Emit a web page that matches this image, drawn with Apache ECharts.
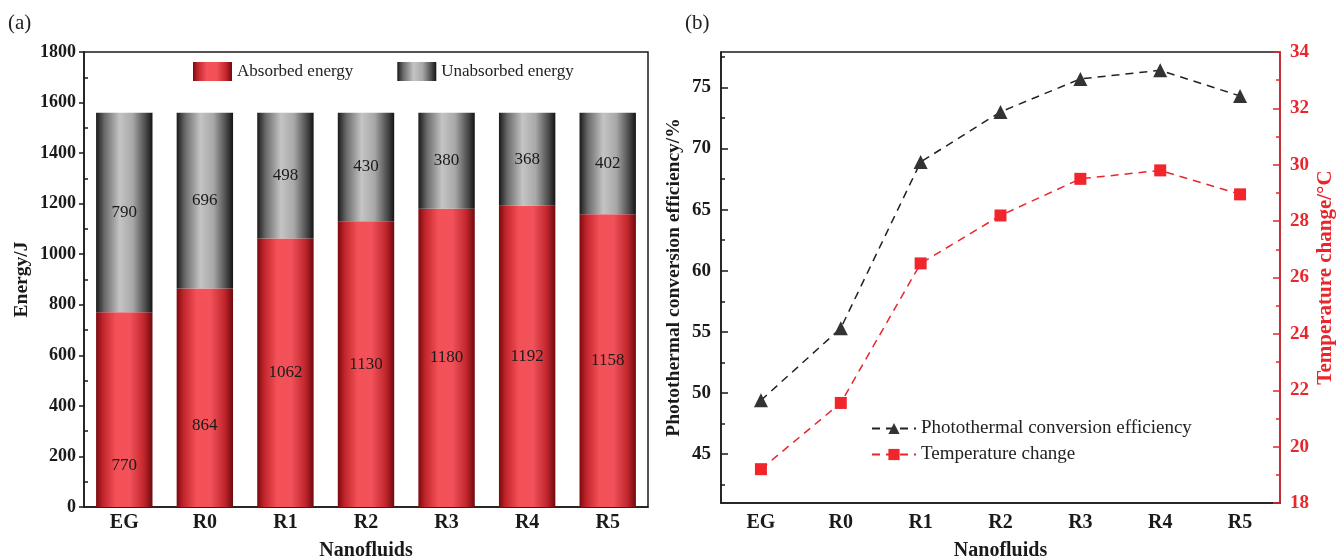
<!DOCTYPE html>
<html>
<head>
<meta charset="utf-8">
<script src="https://cdn.jsdelivr.net/npm/echarts@6/dist/echarts.min.js"></script>
<style>
html,body{margin:0;padding:0;background:#fff;}
#c{width:1339px;height:560px;}
</style>
</head>
<body>
<div id="c"></div>
<script>
// ---- data ----
const categories = ['EG', 'R0', 'R1', 'R2', 'R3', 'R4', 'R5'];
const absorbed = [770, 864, 1062, 1130, 1180, 1192, 1158];
const unabsorbed = [790, 696, 498, 430, 380, 368, 402];
const efficiency = [49.4, 55.3, 68.9, 73.0, 75.7, 76.4, 74.3];
const tempChange = [19.2, 21.55, 26.5, 28.2, 29.5, 29.8, 28.95];
const energyMinorTicks = [100, 300, 500, 700, 900, 1100, 1300, 1500, 1700];
const effMajorTicks = [45, 50, 55, 60, 65, 70, 75];
const effMinorTicks = [42.5, 47.5, 52.5, 57.5, 62.5, 67.5, 72.5, 77.5];

const FONT = '"Liberation Serif", "DejaVu Serif", serif';
const chart = echarts.init(document.getElementById('c'));

const redGrad = new echarts.graphic.LinearGradient(0, 0, 1, 0, [
  {offset: 0, color: '#7a0a0e'},
  {offset: 0.12, color: '#c0252b'},
  {offset: 0.35, color: '#f45058'},
  {offset: 0.6, color: '#f2525a'},
  {offset: 0.85, color: '#c2262d'},
  {offset: 1, color: '#6e0a0d'}
]);
const grayGrad = new echarts.graphic.LinearGradient(0, 0, 1, 0, [
  {offset: 0, color: '#1a1a1a'},
  {offset: 0.15, color: '#6a6a6a'},
  {offset: 0.42, color: '#c4c4c4'},
  {offset: 0.65, color: '#a8a8a8'},
  {offset: 0.88, color: '#4a4a4a'},
  {offset: 1, color: '#141414'}
]);

// label tweaks for the short red bars (style only)
const absorbedLabelOffset = {EG: [0, 56], R0: [0, 28]};

const axisLabelStyle = {fontFamily: FONT, fontWeight: 'bold', fontSize: 18, color: '#1a1a1a'};
const catLabelStyle = {fontFamily: FONT, fontWeight: 'bold', fontSize: 20, color: '#1a1a1a'};
const axisNameStyle = {fontFamily: FONT, fontWeight: 'bold', fontSize: 20, color: '#1a1a1a'};
const vNameStyle = {fontFamily: FONT, fontWeight: 'bold', fontSize: 19.5, color: '#1a1a1a'};

const option = {
  backgroundColor: '#fff',
  animation: false,
  title: [
    {text: '(a)', left: 3, top: 8, textStyle: {fontFamily: FONT, fontWeight: 'normal', fontSize: 21, color: '#222'}},
    {text: '(b)', left: 680, top: 8, textStyle: {fontFamily: FONT, fontWeight: 'normal', fontSize: 21, color: '#222'}}
  ],
  grid: [
    {left: 84, top: 52, width: 564, height: 455, outerBoundsMode: 'none', containLabel: false, show: true, borderColor: '#1a1a1a', borderWidth: 1.5, backgroundColor: 'transparent'},
    {left: 721, top: 52, width: 559, height: 451, outerBoundsMode: 'none', containLabel: false, show: true, borderColor: '#1a1a1a', borderWidth: 1.5, backgroundColor: 'transparent'}
  ],
  legend: [
    {
      data: ['Absorbed energy', 'Unabsorbed energy'],
      left: 193, top: 62, padding: 0, itemWidth: 39, itemHeight: 19, itemGap: 44, icon: 'rect',
      textStyle: {fontFamily: FONT, fontSize: 17, color: '#222'}
    },
    {
      data: ['Photothermal conversion efficiency', 'Temperature change'],
      orient: 'vertical', left: 866, top: 414, itemWidth: 44, itemHeight: 14, itemGap: 7,
      textStyle: {fontFamily: FONT, fontSize: 19, color: '#222'}
    }
  ],
  xAxis: [
    {
      type: 'category', gridIndex: 0, data: categories,
      axisLine: {lineStyle: {color: '#1a1a1a', width: 1.5}},
      axisTick: {alignWithLabel: true, inside: true, length: 6, lineStyle: {color: '#1a1a1a', width: 1.5}},
      axisLabel: Object.assign({margin: 6}, catLabelStyle),
      name: 'Nanofluids', nameLocation: 'middle', nameGap: 34, nameTextStyle: axisNameStyle
    },
    {
      type: 'category', gridIndex: 0, data: categories, position: 'bottom',
      axisLine: {show: false},
      axisTick: {alignWithLabel: false, inside: true, length: 3, lineStyle: {color: '#1a1a1a', width: 1.5}},
      axisLabel: {show: false}
    },
    {
      type: 'category', gridIndex: 1, data: categories,
      axisLine: {lineStyle: {color: '#1a1a1a', width: 1.5}},
      axisTick: {alignWithLabel: true, inside: false, length: 6, lineStyle: {color: '#1a1a1a', width: 1.5}},
      axisLabel: Object.assign({margin: 10}, catLabelStyle),
      name: 'Nanofluids', nameLocation: 'middle', nameGap: 38, nameTextStyle: axisNameStyle
    },
    {
      type: 'category', gridIndex: 1, data: categories, position: 'bottom',
      axisLine: {show: false},
      axisTick: {alignWithLabel: false, inside: true, length: 4, lineStyle: {color: '#1a1a1a', width: 1.5}},
      axisLabel: {show: false}
    }
  ],
  yAxis: [
    {
      type: 'value', gridIndex: 0, min: 0, max: 1800, interval: 200, position: 'left',
      axisLine: {show: true, lineStyle: {color: '#1a1a1a', width: 1.5}},
      axisTick: {show: true, inside: false, length: 5, lineStyle: {color: '#1a1a1a', width: 1.5}},
      splitLine: {show: false},
      axisLabel: Object.assign({margin: 8, formatter: (v) => String(v)}, axisLabelStyle),
      name: 'Energy/J', nameLocation: 'middle', nameGap: 52, nameRotate: 90, nameTextStyle: vNameStyle
    },
    {
      type: 'value', gridIndex: 0, min: 0, max: 1800, position: 'left',
      axisLine: {show: false},
      axisTick: {show: true, inside: true, length: 4, customValues: energyMinorTicks, lineStyle: {color: '#1a1a1a', width: 1.5}},
      splitLine: {show: false},
      axisLabel: {show: false}
    },
    {
      type: 'value', gridIndex: 1, min: 41, max: 77.9, position: 'left',
      axisLine: {show: true, lineStyle: {color: '#1a1a1a', width: 1.5}},
      axisTick: {show: true, inside: true, length: 7, customValues: effMajorTicks, lineStyle: {color: '#1a1a1a', width: 1.5}},
      splitLine: {show: false},
      axisLabel: Object.assign({margin: 10, customValues: effMajorTicks}, axisLabelStyle, {fontSize: 19}),
      name: 'Photothermal conversion efficiency/%', nameLocation: 'middle', nameGap: 37, nameRotate: 90, nameTextStyle: vNameStyle
    },
    {
      type: 'value', gridIndex: 1, min: 41, max: 77.9, position: 'left',
      axisLine: {show: false},
      axisTick: {show: true, inside: true, length: 4, customValues: effMinorTicks, lineStyle: {color: '#1a1a1a', width: 1.5}},
      splitLine: {show: false},
      axisLabel: {show: false}
    },
    {
      type: 'value', gridIndex: 1, min: 18, max: 34, interval: 2, position: 'right',
      axisLine: {show: true, lineStyle: {color: '#e8262c', width: 1.5}},
      axisTick: {show: true, inside: true, length: 7, lineStyle: {color: '#e8262c', width: 1.5}},
      minorTick: {show: true, splitNumber: 2, length: 4, lineStyle: {color: '#e8262c', width: 1.5}},
      splitLine: {show: false},
      axisLabel: Object.assign({margin: 10}, axisLabelStyle, {color: '#e8262c', fontSize: 19}),
      name: 'Temperature change/°C', nameLocation: 'middle', nameGap: 35, nameRotate: 90,
      nameTextStyle: Object.assign({}, vNameStyle, {color: '#e8262c', fontSize: 21})
    }
  ],
  series: [
    {
      name: 'Absorbed energy', type: 'bar', stack: 'energy', xAxisIndex: 0, yAxisIndex: 0,
      barWidth: '70%',
      data: absorbed.map((v, i) => ({
        value: v,
        label: absorbedLabelOffset[categories[i]] ? {offset: absorbedLabelOffset[categories[i]]} : undefined
      })),
      itemStyle: {color: redGrad},
      label: {show: true, position: 'inside', fontFamily: FONT, fontSize: 17, color: '#1a1a1a'}
    },
    {
      name: 'Unabsorbed energy', type: 'bar', stack: 'energy', xAxisIndex: 0, yAxisIndex: 0,
      barWidth: '70%',
      data: unabsorbed,
      itemStyle: {color: grayGrad},
      label: {show: true, position: 'inside', fontFamily: FONT, fontSize: 17, color: '#1a1a1a'}
    },
    {
      name: 'Photothermal conversion efficiency', type: 'line', xAxisIndex: 2, yAxisIndex: 2,
      data: efficiency, symbol: 'triangle', symbolSize: 14,
      itemStyle: {color: '#333333'},
      lineStyle: {color: '#222222', width: 1.5, type: [8, 6]}
    },
    {
      name: 'Temperature change', type: 'line', xAxisIndex: 2, yAxisIndex: 4,
      data: tempChange, symbol: 'rect', symbolSize: 12,
      itemStyle: {color: '#f0262c'},
      lineStyle: {color: '#e8262c', width: 1.5, type: [8, 6]}
    }
  ]
};
chart.setOption(option);
</script>
</body>
</html>
